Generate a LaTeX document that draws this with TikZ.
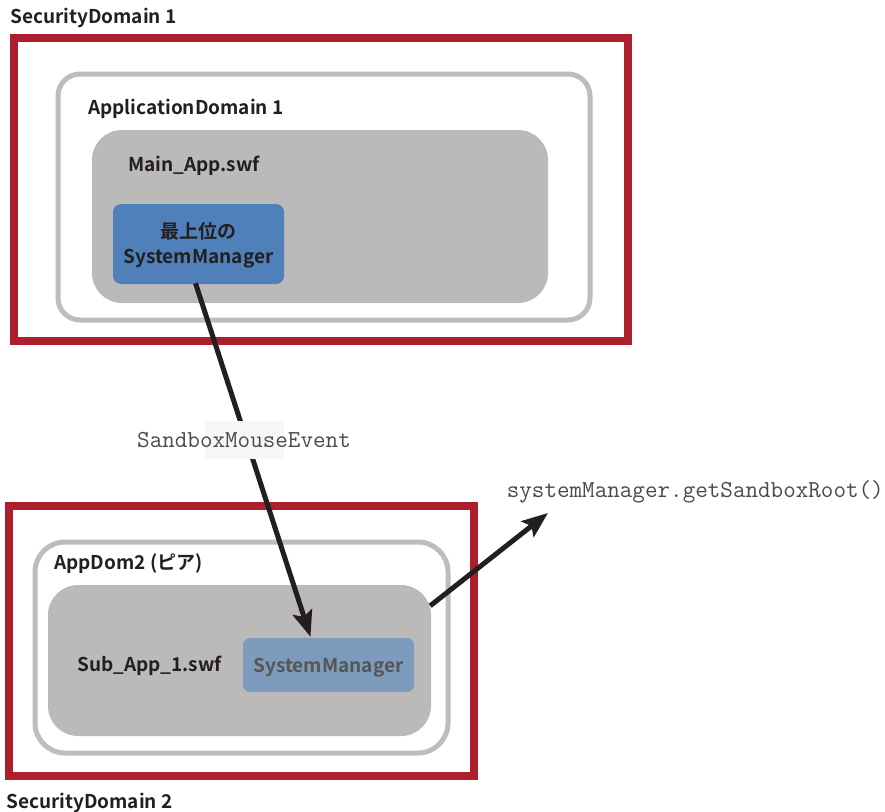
\documentclass[tikz,border=0pt]{standalone}
\usepackage{fontspec}
\newfontfamily\lab{Noto Sans CJK JP Bold}
\usetikzlibrary{arrows.meta,calc}
\definecolor{secred}{HTML}{AE1F2E}
\definecolor{domgray}{HTML}{BEBDBC}
\definecolor{swfgray}{HTML}{BBBAB8}
\definecolor{smblue}{HTML}{4F80BA}
\definecolor{smpale}{HTML}{7C9BBD}
\definecolor{ink}{HTML}{231F20}
\definecolor{codegray}{HTML}{4A4A4A}
\definecolor{smtext}{HTML}{565656}
\tikzset{
  secbox/.style={draw=secred,line width=7.5pt,fill=white},
  dombox/.style={draw=domgray,line width=5pt,fill=white,rounded corners=22pt},
  swfbox/.style={fill=swfgray,rounded corners=30pt},
  title/.style={font=\lab\fontsize{19}{22}\selectfont,text=ink,inner sep=0pt,anchor=base west},
  codelabel/.style={font=\ttfamily\fontsize{24.4}{27}\selectfont,text=codegray,inner sep=0pt,anchor=base west},
  flow/.style={draw=ink,line width=5pt,-{Stealth[length=26pt,width=20pt,inset=5pt]}}
}
\begin{document}
\begin{tikzpicture}[x=1pt,y=-1pt]
\useasboundingbox (0,0) rectangle (885,811);

% security domain 1 with its application domain
\draw[secbox] (14,38) rectangle (628,341);
\draw[dombox] (58,74) rectangle (590,320);
\fill[swfbox] (92,130) rectangle (548,303);
\node[title] (sd1) at (10,23) {SecurityDomain 1};
\node[title] (ad1) at (88,114) {ApplicationDomain 1};
\node[title] (mainapp) at (128,171) {Main\_App.swf};
\node[fill=smblue,rounded corners=8pt,minimum width=171pt,minimum height=80pt,inner sep=0pt] (sm1) at (198.5,244) {};
\node[font=\lab\fontsize{19}{25}\selectfont,text=ink,align=center,inner sep=0pt] (sm1text) at (198.5,245) {最上位の\\SystemManager};

% security domain 2 with the peer application domain
\draw[secbox] (9,506) rectangle (474,776);
\draw[dombox,rounded corners=30pt] (35,542) rectangle (448,753);
\node[swfbox,minimum width=383pt,minimum height=151pt,inner sep=0pt] (subapp) at (239.5,660.5) {};
\node[title] (ad2) at (54,569) {AppDom2 (ピア)};
\node[title] (subname) at (77,671) {Sub\_App\_1.swf};
\node[fill=smpale,rounded corners=7pt,minimum width=171pt,minimum height=54pt,inner sep=0pt] (sm2) at (328.5,665) {};
\node[font=\lab\fontsize{19}{22}\selectfont,text=smtext,inner sep=0pt,anchor=base] (sm2text) at (328.5,672) {SystemManager};
\node[title] (sd2) at (6,808) {SecurityDomain 2};

% event flowing from the top-level manager down to the peer manager
\draw[flow] ($(sm1.south)+(-3,-1)$) -- ($(sm2.north)+(-18,-1)$);
\node[fill=black!3,minimum width=79pt,minimum height=38pt,inner sep=0pt] (evpatch) at (244.5,440) {};
\node[codelabel] (evlabel) at (137,447) {SandboxMouseEvent};

% call out of the sub application
\coordinate (rootcall) at (548,513);
\draw[flow] ($(subapp.north east)+(-1,21)$) -- (rootcall);
\node[codelabel,anchor=base east] (calllabel) at (884,497) {systemManager.getSandboxRoot()};
\end{tikzpicture}
\end{document}
